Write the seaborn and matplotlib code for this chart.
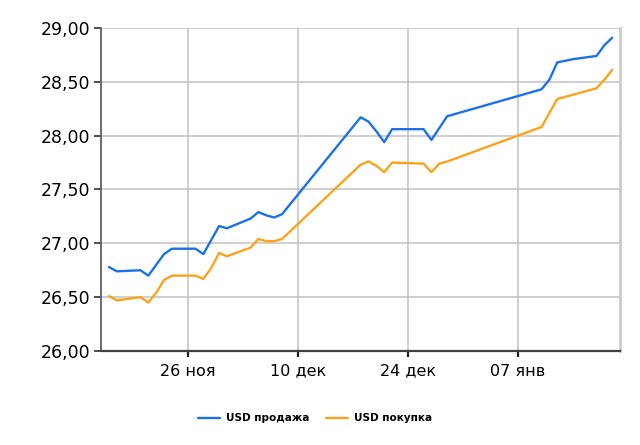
import pandas as pd
import numpy as np
import matplotlib
matplotlib.use('Agg')
import matplotlib.pyplot as plt
import matplotlib.dates as mdates
import seaborn as sns

# Данные
dates = ['2008-11-16', '2008-11-17', '2008-11-20', '2008-11-21', '2008-11-22', '2008-11-23',
         '2008-11-24', '2008-11-27', '2008-11-28', '2008-11-29', '2008-11-30', '2008-12-01',
         '2008-12-04', '2008-12-05', '2008-12-06', '2008-12-07', '2008-12-08', '2008-12-18',
         '2008-12-19', '2008-12-20', '2008-12-21', '2008-12-22', '2008-12-26', '2008-12-27',
         '2008-12-28', '2008-12-29', '2009-01-10', '2009-01-11', '2009-01-12', '2009-01-14',
         '2009-01-16', '2009-01-17', '2009-01-18', '2009-01-19']
usd_sell = [26.78, 26.74, 26.75, 26.70, 26.80, 26.90, 26.95, 26.95, 26.90, 27.03, 27.16, 27.14,
            27.23, 27.29, 27.26, 27.24, 27.27, 28.17, 28.13, 28.04, 27.94, 28.06, 28.06, 27.96,
            28.07, 28.18, 28.43, 28.52, 28.68, 28.71, 28.73, 28.74, 28.84, 28.91]
usd_buy = [26.51, 26.47, 26.50, 26.45, 26.54, 26.66, 26.70, 26.70, 26.67, 26.77, 26.91, 26.88,
           26.96, 27.04, 27.02, 27.02, 27.04, 27.73, 27.76, 27.72, 27.66, 27.75, 27.74, 27.66,
           27.74, 27.76, 28.08, 28.21, 28.34, 28.38, 28.42, 28.44, 28.52, 28.61]
series_names = ['USD продажа', 'USD покупка']
series_colors = ['#1b72e6', '#fda21b']

tick_dates = ['2008-11-26', '2008-12-10', '2008-12-24', '2009-01-07']
tick_labels = ['26 ноя', '10 дек', '24 дек', '07 янв']
y_ticks = [26.0, 26.5, 27.0, 27.5, 28.0, 28.5, 29.0]
x_range = ['2008-11-15', '2009-01-20']

df = pd.DataFrame({
    'date': pd.to_datetime(dates * 2),
    'value': usd_sell + usd_buy,
    'series': [series_names[0]] * len(dates) + [series_names[1]] * len(dates),
})

sns.set_style('white')
plt.rcParams['font.family'] = ['DejaVu Sans']
plt.rcParams['text.color'] = 'black'
plt.rcParams['xtick.color'] = 'black'
plt.rcParams['ytick.color'] = 'black'

fig = plt.figure(figsize=(6.4, 4.45), dpi=100)
ax = fig.add_axes([0.158, 0.2112, 0.811, 0.726])

sns.lineplot(data=df, x='date', y='value', hue='series', palette=series_colors,
             linewidth=1.7, ax=ax)

ax.set_xlim(pd.to_datetime(x_range[0]), pd.to_datetime(x_range[1]))
ax.set_ylim(y_ticks[0], y_ticks[-1])
ax.set_xticks(pd.to_datetime(tick_dates))
ax.set_xticklabels(tick_labels, fontsize=11.5)
ax.set_yticks(y_ticks)
ax.set_yticklabels([f'{v:.2f}'.replace('.', ',') for v in y_ticks], fontsize=12.5)
ax.set_xlabel('')
ax.set_ylabel('')

ax.grid(True, color='#c2c2c2', linewidth=1.1)
ax.set_axisbelow(True)
ax.spines['top'].set_visible(False)
ax.spines['right'].set_color('#cccccc')
ax.spines['right'].set_linewidth(2)
ax.spines['left'].set_color('#606060')
ax.spines['left'].set_linewidth(1.3)
ax.spines['bottom'].set_color('#404040')
ax.spines['bottom'].set_linewidth(1.6)
ax.tick_params(axis='y', length=5, width=1.3, color='#404040', labelcolor='black', pad=3, left=True)
ax.tick_params(axis='x', length=4, width=1.6, color='#202020', labelcolor='black', pad=5, bottom=True)

sns.move_legend(ax, 'center', bbox_to_anchor=(0.412, -0.208), ncol=2, frameon=False,
                title=None, handlelength=2.1, handletextpad=0.6, columnspacing=1.6,
                prop={'size': 7.5, 'weight': 'bold'})

fig.savefig('out.png', dpi=100)
